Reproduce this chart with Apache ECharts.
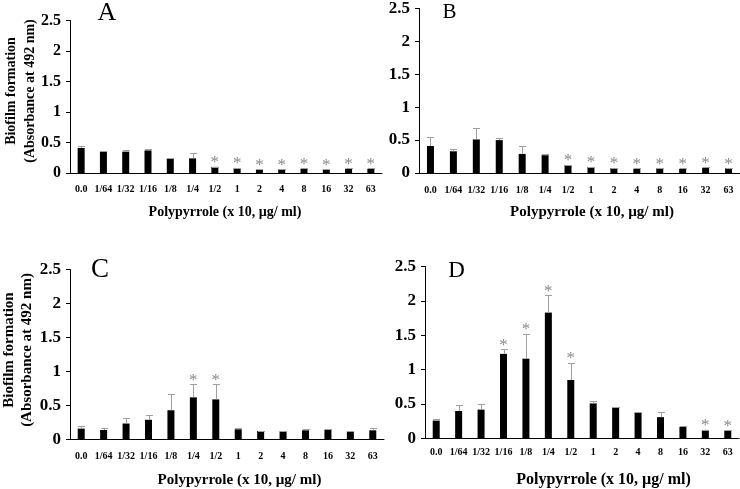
<!DOCTYPE html>
<html><head><meta charset="utf-8">
<script src="https://cdn.jsdelivr.net/npm/echarts@6/dist/echarts.min.js"></script>
<style>html,body{margin:0;padding:0;background:#fff}#c{width:740px;height:489px}</style>
</head><body><div id="c"></div>
<script>
const categories = ['0.0','1/64','1/32','1/16','1/8','1/4','1/2','1','2','4','8','16','32','63'];

const aValues = [0.41,0.35,0.35,0.37,0.24,0.24,0.10,0.08,0.06,0.06,0.07,0.06,0.07,0.07];
const aErrors = [0.035,0.005,0.035,0.03,0.01,0.08,0.005,0.005,0.005,0.005,0.005,0.005,0.005,0.005];
const aSig    = [0,0,0,0,0,0,1,1,1,1,1,1,1,1];

const bValues = [0.41,0.33,0.51,0.50,0.29,0.27,0.12,0.09,0.075,0.065,0.07,0.065,0.08,0.07];
const bErrors = [0.13,0.035,0.17,0.03,0.12,0.02,0.005,0.005,0.005,0.005,0.005,0.005,0.005,0.005];
const bSig    = [0,0,0,0,0,0,1,1,1,1,1,1,1,1];

const cValues = [0.16,0.14,0.235,0.29,0.43,0.62,0.59,0.15,0.125,0.12,0.135,0.145,0.12,0.135];
const cErrors = [0.035,0.03,0.08,0.075,0.235,0.19,0.22,0.02,0.005,0.005,0.015,0.01,0.005,0.04];
const cSig    = [0,0,0,0,0,1,1,0,0,0,0,0,0,0];

const dValues = [0.26,0.40,0.42,1.23,1.16,1.83,0.85,0.51,0.45,0.38,0.31,0.17,0.125,0.115];
const dErrors = [0.02,0.08,0.075,0.065,0.36,0.25,0.25,0.04,0.005,0.01,0.08,0.01,0.005,0.005];
const dSig    = [0,0,0,1,1,1,1,0,0,0,0,0,1,1];

const yMin = 0, yMax = 2.5, yInterval = 0.5;
const panelLetters = ['A','B','C','D'];
const xTitle = 'Polypyrrole (x 10, \u00b5g/ ml)';
const yTitle = 'Biofilm formation\n(Absorbance at 492 nm)';

const SERIF = '"Liberation Serif","Times New Roman",serif';
const panels = [
  {vals:aValues, errs:aErrors, sig:aSig, grid:{left:70, top:20.5, width:312, height:152.5}, yFont:16, xMargin:11},
  {vals:bValues, errs:bErrors, sig:bSig, grid:{left:419, top:6, width:321, height:167}, yFont:17, xMargin:12},
  {vals:cValues, errs:cErrors, sig:cSig, grid:{left:70, top:269.5, width:314, height:170}, yFont:17, xMargin:11.5},
  {vals:dValues, errs:dErrors, sig:dSig, grid:{left:425, top:266.5, width:314, height:172}, yFont:17, xMargin:8.5}
];

function renderErr(params, api) {
  const i = api.value(0), v = api.value(1), e = api.value(2), s = api.value(3);
  const top = api.coord([i, v + e]);
  const base = api.coord([i, v]);
  const x = Math.round(top[0]) + 0.5;
  const ty = Math.round(top[1]) + 0.5;
  const children = [
    {type:'line', shape:{x1:x, y1:base[1], x2:x, y2:ty}, style:{stroke:'#a0a0a0', lineWidth:1}},
    {type:'line', shape:{x1:x-3.5, y1:ty, x2:x+3.5, y2:ty}, style:{stroke:'#a0a0a0', lineWidth:1}}
  ];
  if (s) {
    children.push({type:'text', style:{text:'*', x:top[0], y:top[1]-4, align:'center', verticalAlign:'middle',
      fill:'#8a8a8a', font:'17px ' + SERIF}});
  }
  return {type:'group', children};
}

const grids = [], xAxes = [], yAxes = [], series = [];
panels.forEach((p, k) => {
  grids.push(p.grid);
  xAxes.push({type:'category', gridIndex:k, data:categories,
    axisLine:{lineStyle:{color:'#000', width:1}}, axisTick:{show:false},
    axisLabel:{color:'#000', fontFamily:SERIF, fontWeight:'bold', fontSize:10, margin:p.xMargin, interval:0}});
  yAxes.push({type:'value', gridIndex:k, min:yMin, max:yMax, interval:yInterval,
    axisLine:{show:true, lineStyle:{color:'#000', width:1}},
    axisTick:{show:true, length:4, lineStyle:{color:'#000'}},
    splitLine:{show:false},
    axisLabel:{color:'#000', fontFamily:SERIF, fontWeight:'bold', fontSize:p.yFont, margin:9}});
  series.push({type:'bar', xAxisIndex:k, yAxisIndex:k, data:p.vals, barWidth:7,
    itemStyle:{color:'#000'}, animation:false, z:2});
  series.push({type:'custom', xAxisIndex:k, yAxisIndex:k, renderItem:renderErr, z:3, animation:false,
    encode:{x:0, y:1},
    data:p.vals.map((v, i) => [i, v, p.errs[i], p.sig[i]])});
});

const graphic = [
  {type:'text', x:107, y:13, style:{text:panelLetters[0], font:'26px ' + SERIF, fill:'#000', align:'center', verticalAlign:'middle'}},
  {type:'text', x:449.5, y:12, style:{text:panelLetters[1], font:'21px ' + SERIF, fill:'#000', align:'center', verticalAlign:'middle'}},
  {type:'text', x:100, y:270, style:{text:panelLetters[2], font:'27px ' + SERIF, fill:'#000', align:'center', verticalAlign:'middle'}},
  {type:'text', x:456.5, y:271, style:{text:panelLetters[3], font:'23px ' + SERIF, fill:'#000', align:'center', verticalAlign:'middle'}},
  {type:'text', x:225, y:212, style:{text:xTitle, font:'bold 14px ' + SERIF, fill:'#000', align:'center', verticalAlign:'middle'}},
  {type:'text', x:592, y:212, style:{text:xTitle, font:'bold 15px ' + SERIF, fill:'#000', align:'center', verticalAlign:'middle'}},
  {type:'text', x:239.5, y:480, style:{text:xTitle, font:'bold 15px ' + SERIF, fill:'#000', align:'center', verticalAlign:'middle'}},
  {type:'text', x:603.5, y:480, style:{text:xTitle, font:'bold 16px ' + SERIF, fill:'#000', align:'center', verticalAlign:'middle'}},
  {type:'text', x:20.5, y:91, rotation:Math.PI/2, style:{text:yTitle, font:'bold 14px ' + SERIF, lineHeight:19, fill:'#000', align:'center', verticalAlign:'middle'}},
  {type:'text', x:18, y:350, rotation:Math.PI/2, style:{text:yTitle, font:'bold 15px ' + SERIF, lineHeight:18, fill:'#000', align:'center', verticalAlign:'middle'}}
];

const chart = echarts.init(document.getElementById('c'), null, {renderer:'canvas'});
chart.setOption({animation:false, grid:grids, xAxis:xAxes, yAxis:yAxes, series, graphic});
</script></body></html>
